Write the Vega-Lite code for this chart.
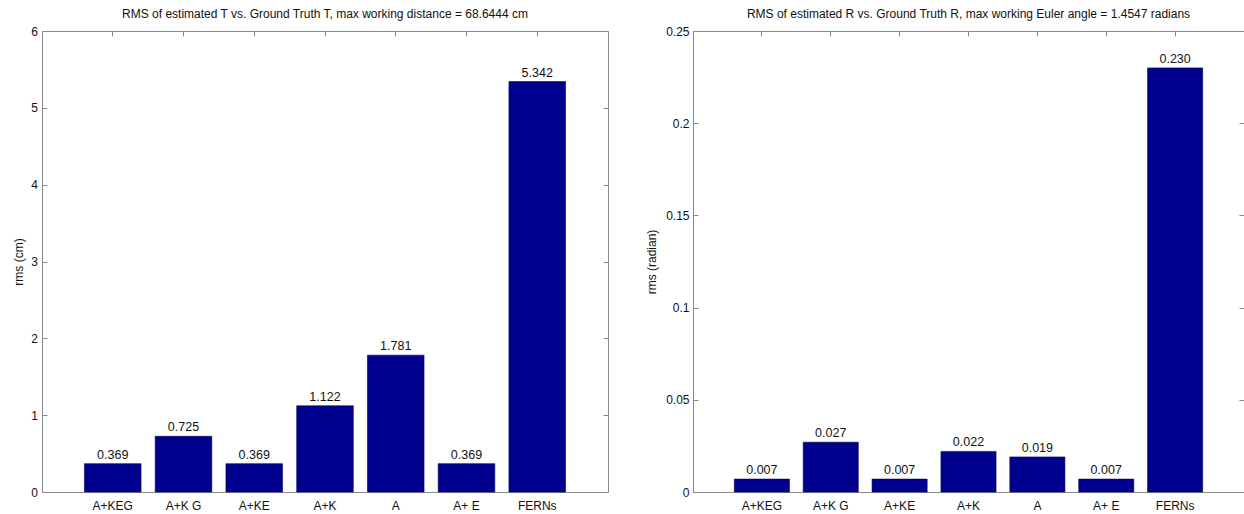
{
  "$schema": "https://vega.github.io/schema/vega-lite/v6.json",
  "padding": {"left": 12, "top": 8, "right": 0, "bottom": 0},
  "spacing": 36,
  "background": "white",
  "config": {
    "view": {"stroke": null},
    "font": "Liberation Sans",
    "axis": {
      "domainColor": "#8a8a8a",
      "tickColor": "#8a8a8a",
      "tickSize": -5,
      "grid": false,
      "labelFont": "Liberation Sans",
      "labelFontSize": 12,
      "labelColor": "#111",
      "titleFont": "Liberation Sans",
      "titleFontSize": 12,
      "titleFontWeight": "normal",
      "titleColor": "#111",
      "labelAngle": 0
    },
    "title": {"font": "Liberation Sans", "fontSize": 12, "fontWeight": "normal", "color": "#111", "anchor": "middle", "offset": 4}
  },
  "datasets": {
    "t": [
      {"method": "A+KEG", "rms": 0.369},
      {"method": "A+K G", "rms": 0.725},
      {"method": "A+KE", "rms": 0.369},
      {"method": "A+K", "rms": 1.122},
      {"method": "A", "rms": 1.781},
      {"method": "A+ E", "rms": 0.369},
      {"method": "FERNs", "rms": 5.342}
    ],
    "r": [
      {"method": "A+KEG", "rms": 0.007},
      {"method": "A+K G", "rms": 0.027},
      {"method": "A+KE", "rms": 0.007},
      {"method": "A+K", "rms": 0.022},
      {"method": "A", "rms": 0.019},
      {"method": "A+ E", "rms": 0.007},
      {"method": "FERNs", "rms": 0.230}
    ]
  },
  "hconcat": [
    {
      "width": 566,
      "height": 461,
      "data": {"name": "t"},
      "title": {"text": "RMS of estimated T vs. Ground Truth T, max working distance = 68.6444 cm"},
      "resolve": {"axis": {"x": "independent", "y": "independent"}},
      "layer": [
        {
          "mark": {"type": "bar", "color": "#00008F", "stroke": "#00005a", "strokeWidth": 0.6},
          "encoding": {
            "x": {"field": "method", "type": "nominal", "sort": null,
                  "scale": {"paddingInner": 0.2, "paddingOuter": 0.6},
                  "axis": {"orient": "bottom", "title": null, "labelPadding": 13}},
            "y": {"field": "rms", "type": "quantitative",
                  "scale": {"domain": [0, 6], "nice": false},
                  "axis": {"orient": "left", "title": "rms (cm)", "values": [0, 1, 2, 3, 4, 5, 6], "labelPadding": 9.5, "titlePadding": 5}}
          }
        },
        {
          "mark": {"type": "text", "baseline": "alphabetic", "dy": -5, "fontSize": 12.5, "color": "#111", "font": "Liberation Sans"},
          "encoding": {
            "x": {"field": "method", "type": "nominal", "sort": null,
                  "axis": {"orient": "top", "title": null, "labels": false}},
            "y": {"field": "rms", "type": "quantitative",
                  "axis": {"orient": "right", "title": null, "labels": false, "values": [0, 1, 2, 3, 4, 5, 6]}},
            "text": {"field": "rms", "type": "quantitative", "format": ".3f"}
          }
        }
      ]
    },
    {
      "width": 551,
      "height": 461,
      "data": {"name": "r"},
      "title": {"text": "RMS of estimated R vs. Ground Truth R, max working Euler angle = 1.4547 radians"},
      "resolve": {"axis": {"x": "independent", "y": "independent"}},
      "layer": [
        {
          "mark": {"type": "bar", "color": "#00008F", "stroke": "#00005a", "strokeWidth": 0.6},
          "encoding": {
            "x": {"field": "method", "type": "nominal", "sort": null,
                  "scale": {"paddingInner": 0.2, "paddingOuter": 0.6},
                  "axis": {"orient": "bottom", "title": null, "labelPadding": 13}},
            "y": {"field": "rms", "type": "quantitative",
                  "scale": {"domain": [0, 0.25], "nice": false},
                  "axis": {"orient": "left", "title": "rms (radian)", "values": [0, 0.05, 0.1, 0.15, 0.2, 0.25], "labelExpr": "'' + datum.value", "labelPadding": 9, "titlePadding": 7}}
          }
        },
        {
          "mark": {"type": "text", "baseline": "alphabetic", "dy": -5, "fontSize": 12.5, "color": "#111", "font": "Liberation Sans"},
          "encoding": {
            "x": {"field": "method", "type": "nominal", "sort": null,
                  "axis": {"orient": "top", "title": null, "labels": false}},
            "y": {"field": "rms", "type": "quantitative",
                  "axis": {"orient": "right", "title": null, "labels": false, "values": [0, 0.05, 0.1, 0.15, 0.2, 0.25]}},
            "text": {"field": "rms", "type": "quantitative", "format": ".3f"}
          }
        }
      ]
    }
  ]
}
